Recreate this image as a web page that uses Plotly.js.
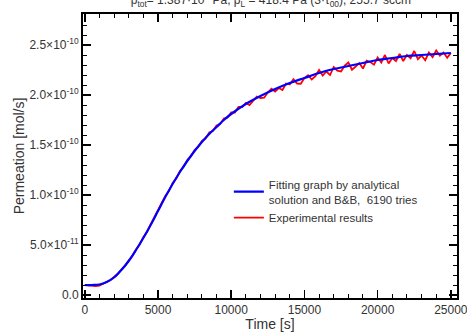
<!DOCTYPE html>
<html><head><meta charset="utf-8">
<script src="https://cdn.plot.ly/plotly-3.0.1.min.js"></script>
<style>html,body{margin:0;padding:0;background:#fff}#c{width:467px;height:332px}</style>
</head><body><div id="c"></div>
<script>
// Fitted curve (analytical solution) – time [s]
const fitTime = [0,500,1000,1500,2000,2500,3000,3500,4000,4500,5000,5500,6000,6500,7000,7500,8000,8500,9000,9500,10000,11000,12000,13000,14000,15000,16000,17000,18000,19000,20000,21000,22000,23000,24000,25000];
// Fitted permeation [units of 1e-11 mol/s]
const fitVal = [1.00,1.00,1.05,1.30,1.75,2.50,3.40,4.50,5.70,7.00,8.40,9.80,11.1,12.3,13.4,14.4,15.3,16.1,16.8,17.5,18.1,19.1,19.9,20.6,21.2,21.7,22.2,22.6,22.9,23.2,23.5,23.7,23.9,24.0,24.1,24.2];
// Experimental results, time [s] (every 250 s)
const expTime = [0,250,500,750,1000,1250,1500,1750,2000,2250,2500,2750,3000,3250,3500,3750,4000,4250,4500,4750,5000,5250,5500,5750,6000,6250,6500,6750,7000,7250,7500,7750,8000,8250,8500,8750,9000,9250,9500,9750,10000,10250,10500,10750,11000,11250,11500,11750,12000,12250,12500,12750,13000,13250,13500,13750,14000,14250,14500,14750,15000,15250,15500,15750,16000,16250,16500,16750,17000,17250,17500,17750,18000,18250,18500,18750,19000,19250,19500,19750,20000,20250,20500,20750,21000,21250,21500,21750,22000,22250,22500,22750,23000,23250,23500,23750,24000,24250,24500,24750,25000];
// Experimental permeation [units of 1e-11 mol/s]
const expVal = [0.98,0.95,0.88,0.90,0.93,1.12,1.28,1.50,1.80,2.10,2.55,2.92,3.45,3.90,4.55,5.05,5.78,6.30,7.05,7.75,8.38,9.15,9.90,10.40,11.20,11.65,12.40,12.80,13.50,13.85,14.50,14.80,15.40,15.65,16.25,16.40,16.95,17.10,17.65,17.75,
  18.25,18.25,18.80,18.80,19.20,19.00,19.45,19.85,19.70,19.73,20.25,20.63,20.35,20.70,20.50,21.15,21.05,21.58,21.15,21.13,21.70,21.98,21.55,21.88,22.50,21.95,22.35,22.00,22.80,22.43,22.35,22.93,23.25,22.53,22.85,23.18,22.65,23.43,23.30,23.03,23.75,23.25,24.00,23.15,23.70,23.40,24.10,23.40,24.00,23.68,24.40,23.58,23.95,23.48,24.25,23.78,24.45,23.93,24.25,23.73,24.20];
const scale = 1e-11;
const yTickVals = [0,5,10,15,20,25];
const yTickText = ['0.0','5.0×10<sup>-11</sup>','1.0×10<sup>-10</sup>','1.5×10<sup>-10</sup>','2.0×10<sup>-10</sup>','2.5×10<sup>-10</sup>'];
const xTickVals = [0,5000,10000,15000,20000,25000];

const expTrace = {x: expTime, y: expVal.map(v=>v*scale), mode:'lines', line:{color:'#ff0000', width:1.8},
   name:'Experimental results'};
const fitTrace = {x: fitTime, y: fitVal.map(v=>v*scale), mode:'lines', line:{color:'#0000ff', width:2.2, shape:'spline'},
   name:'Fitting graph by analytical<br>solution and B&B,  6190 tries'};
const data = [expTrace, fitTrace];

const FONT = 'Liberation Sans, Arial, sans-serif';
const axisCommon = {showline:true, linecolor:'#000', linewidth:2, mirror:'allticks', ticks:'inside', ticklen:8, tickwidth:1.5, tickcolor:'#000', showgrid:false, zeroline:false, ticklabeloverflow:'allow', tickfont:{family:FONT, size:12, color:'#333'}};
const layout = {
  width:467, height:332, paper_bgcolor:'#fff', plot_bgcolor:'#fff',
  margin:{l:83, r:10, t:14, b:34},
  font:{family:FONT, color:'#333'},
  title:{text:'p<sub>tot</sub>= 1.387·10<sup>5</sup> Pa, p<sub>L</sub> = 418.4 Pa (3·τ<sub>00</sub>), 255.7 sccm', font:{size:12, color:'#333'}, x:0.58, xanchor:'center', y:1.0, yref:'container', yanchor:'middle'},
  xaxis:Object.assign({}, axisCommon, {range:[-120,25420], tickvals:xTickVals, ticktext:xTickVals.map(String),
    minor:{ticks:'inside', ticklen:4, dtick:1000, tickcolor:'#000', tickwidth:1},
    title:{text:'Time [s]', font:{size:14, color:'#333'}, standoff:0}}),
  yaxis:Object.assign({}, axisCommon, {range:[-0.3e-11, 28.1e-11], tickvals:yTickVals.map(v=>v*scale), ticktext:yTickText,
    minor:{ticks:'inside', ticklen:4, dtick:1e-11, tickcolor:'#000', tickwidth:1},
    title:{text:'Permeation [mol/s]', font:{size:14, color:'#333'}, standoff:2}}),
  legend:{x:0.39, y:0.45, xanchor:'left', yanchor:'top', bgcolor:'rgba(0,0,0,0)', font:{size:11.5, color:'#333'}, traceorder:'reversed', tracegroupgap:0, itemwidth:30},
  showlegend:true
};
Plotly.newPlot('c', data, layout, {displayModeBar:false, staticPlot:true});
</script></body></html>
